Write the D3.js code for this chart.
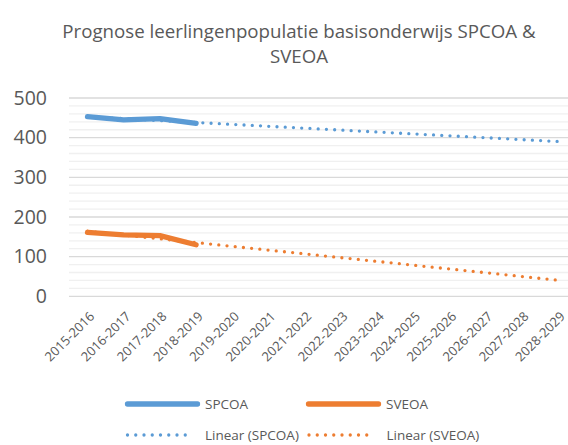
<!DOCTYPE html>
<html>
<head>
<meta charset="utf-8">
<script src="https://cdn.jsdelivr.net/npm/d3@7"></script>
<style>
  html, body { margin: 0; padding: 0; background: #fff; }
  svg { display: block; font-family: "Open Sans", sans-serif; }
</style>
</head>
<body>
<svg id="chart" width="568" height="445"></svg>
<script>
// School years on the category axis
const schoolYears = ["2015-2016","2016-2017","2017-2018","2018-2019","2019-2020","2020-2021",
  "2021-2022","2022-2023","2023-2024","2024-2025","2025-2026","2026-2027","2027-2028","2028-2029"];
// Pupil counts (known years only)
const spcoa = [453, 445, 448, 436];
const sveoa = [161, 155, 153, 130];
// Value axis
const yTicks = [0, 100, 200, 300, 400, 500];
const yMinorStep = 20;

const seriesColors = { SPCOA: "#5B9BD5", SVEOA: "#ED7D31" };
const textColor = "#595959";

const svg = d3.select("#chart");

// Plot area (continues slightly past the right edge of the page)
const x = d3.scalePoint().domain(schoolYears).range([87.5, 558]);
const y = d3.scaleLinear().domain([0, 500]).range([296.3, 98]);
const plotLeft = 69, plotRight = 580;

// Ordinary least-squares trend over the known points, projected over every year
function linearTrend(values) {
  const xs = values.map((_, i) => i + 1);
  const mx = d3.mean(xs), my = d3.mean(values);
  const slope = d3.sum(xs, (xi, i) => (xi - mx) * (values[i] - my)) / d3.sum(xs, xi => (xi - mx) ** 2);
  const intercept = my - slope * mx;
  return schoolYears.map((yr, i) => ({ year: yr, value: intercept + slope * (i + 1) }));
}

// Title
const title = svg.append("text")
  .attr("text-anchor", "middle")
  .attr("fill", textColor)
  .style("font-size", "18.7px");
title.append("tspan").attr("x", 299).attr("y", 38).text("Prognose leerlingenpopulatie basisonderwijs SPCOA &");
title.append("tspan").attr("x", 299).attr("y", 63).text("SVEOA");

// Minor gridlines
const minorTicks = d3.range(0, 501, yMinorStep).filter(v => v % 100 !== 0);
svg.append("g").selectAll("line").data(minorTicks).join("line")
  .attr("x1", plotLeft).attr("x2", plotRight)
  .attr("y1", d => y(d)).attr("y2", d => y(d))
  .attr("stroke", "#F0F0F0").attr("stroke-width", 1.3);

// Major gridlines
svg.append("g").selectAll("line").data(yTicks).join("line")
  .attr("x1", plotLeft).attr("x2", plotRight)
  .attr("y1", d => y(d)).attr("y2", d => y(d))
  .attr("stroke", "#D9D9D9").attr("stroke-width", 1.3);

// Value axis labels
const yAxis = d3.axisLeft(y).tickValues(yTicks).tickSize(0).tickPadding(0);
const yg = svg.append("g").attr("transform", "translate(47,0)").call(yAxis);
yg.select(".domain").remove();
yg.selectAll("text")
  .attr("fill", textColor)
  .style("font-size", "19.5px")
  .style("font-family", "'Open Sans', sans-serif");

// Category axis labels, rotated
const xAxis = d3.axisBottom(x).tickSize(0).tickPadding(0);
const xg = svg.append("g").call(xAxis);
xg.select(".domain").remove();
xg.selectAll(".tick").attr("transform", d => `translate(${x(d) + 4.5},314)`);
xg.selectAll("text")
  .attr("fill", textColor)
  .attr("x", 0).attr("y", 0).attr("dy", "0.35em")
  .attr("text-anchor", "end")
  .attr("transform", "rotate(-45)")
  .style("font-size", "13px")
  .style("font-family", "'Open Sans', sans-serif");

const line = d3.line().x(d => x(d.year)).y(d => y(d.value));

// Data lines
const dataSeries = [
  { name: "SPCOA", values: spcoa },
  { name: "SVEOA", values: sveoa }
];
dataSeries.forEach(s => {
  const pts = s.values.map((v, i) => ({ year: schoolYears[i], value: v }));
  svg.append("path").datum(pts)
    .attr("d", line)
    .attr("fill", "none")
    .attr("stroke", seriesColors[s.name])
    .attr("stroke-width", 5.3)
    .attr("stroke-linecap", "round")
    .attr("stroke-linejoin", "round");
});

// Linear trendlines
dataSeries.forEach(s => {
  svg.append("path").datum(linearTrend(s.values))
    .attr("d", line)
    .attr("fill", "none")
    .attr("stroke", seriesColors[s.name])
    .attr("stroke-width", 3.3)
    .attr("stroke-linecap", "round")
    .attr("stroke-dasharray", "0 8.25");
});

// Legend
const legend = svg.append("g").style("font-size", "13.5px").attr("fill", textColor);
const legendItems = [
  { label: "SPCOA", color: seriesColors.SPCOA, dotted: false, x: 127.5, y: 404 },
  { label: "SVEOA", color: seriesColors.SVEOA, dotted: false, x: 308.5, y: 404 },
  { label: "Linear (SPCOA)", color: seriesColors.SPCOA, dotted: true, x: 127.5, y: 435 },
  { label: "Linear (SVEOA)", color: seriesColors.SVEOA, dotted: true, x: 309, y: 435 }
];
legendItems.forEach(it => {
  legend.append("line")
    .attr("x1", it.x).attr("x2", it.x + (it.dotted ? 66 : 70))
    .attr("y1", it.y).attr("y2", it.y)
    .attr("stroke", it.color)
    .attr("stroke-width", it.dotted ? 3.3 : 5.3)
    .attr("stroke-linecap", "round")
    .attr("stroke-dasharray", it.dotted ? "0 8.25" : null);
  legend.append("text")
    .attr("x", it.x + 77.5).attr("y", it.y).attr("dy", "0.35em")
    .text(it.label);
});
</script>
</body>
</html>
